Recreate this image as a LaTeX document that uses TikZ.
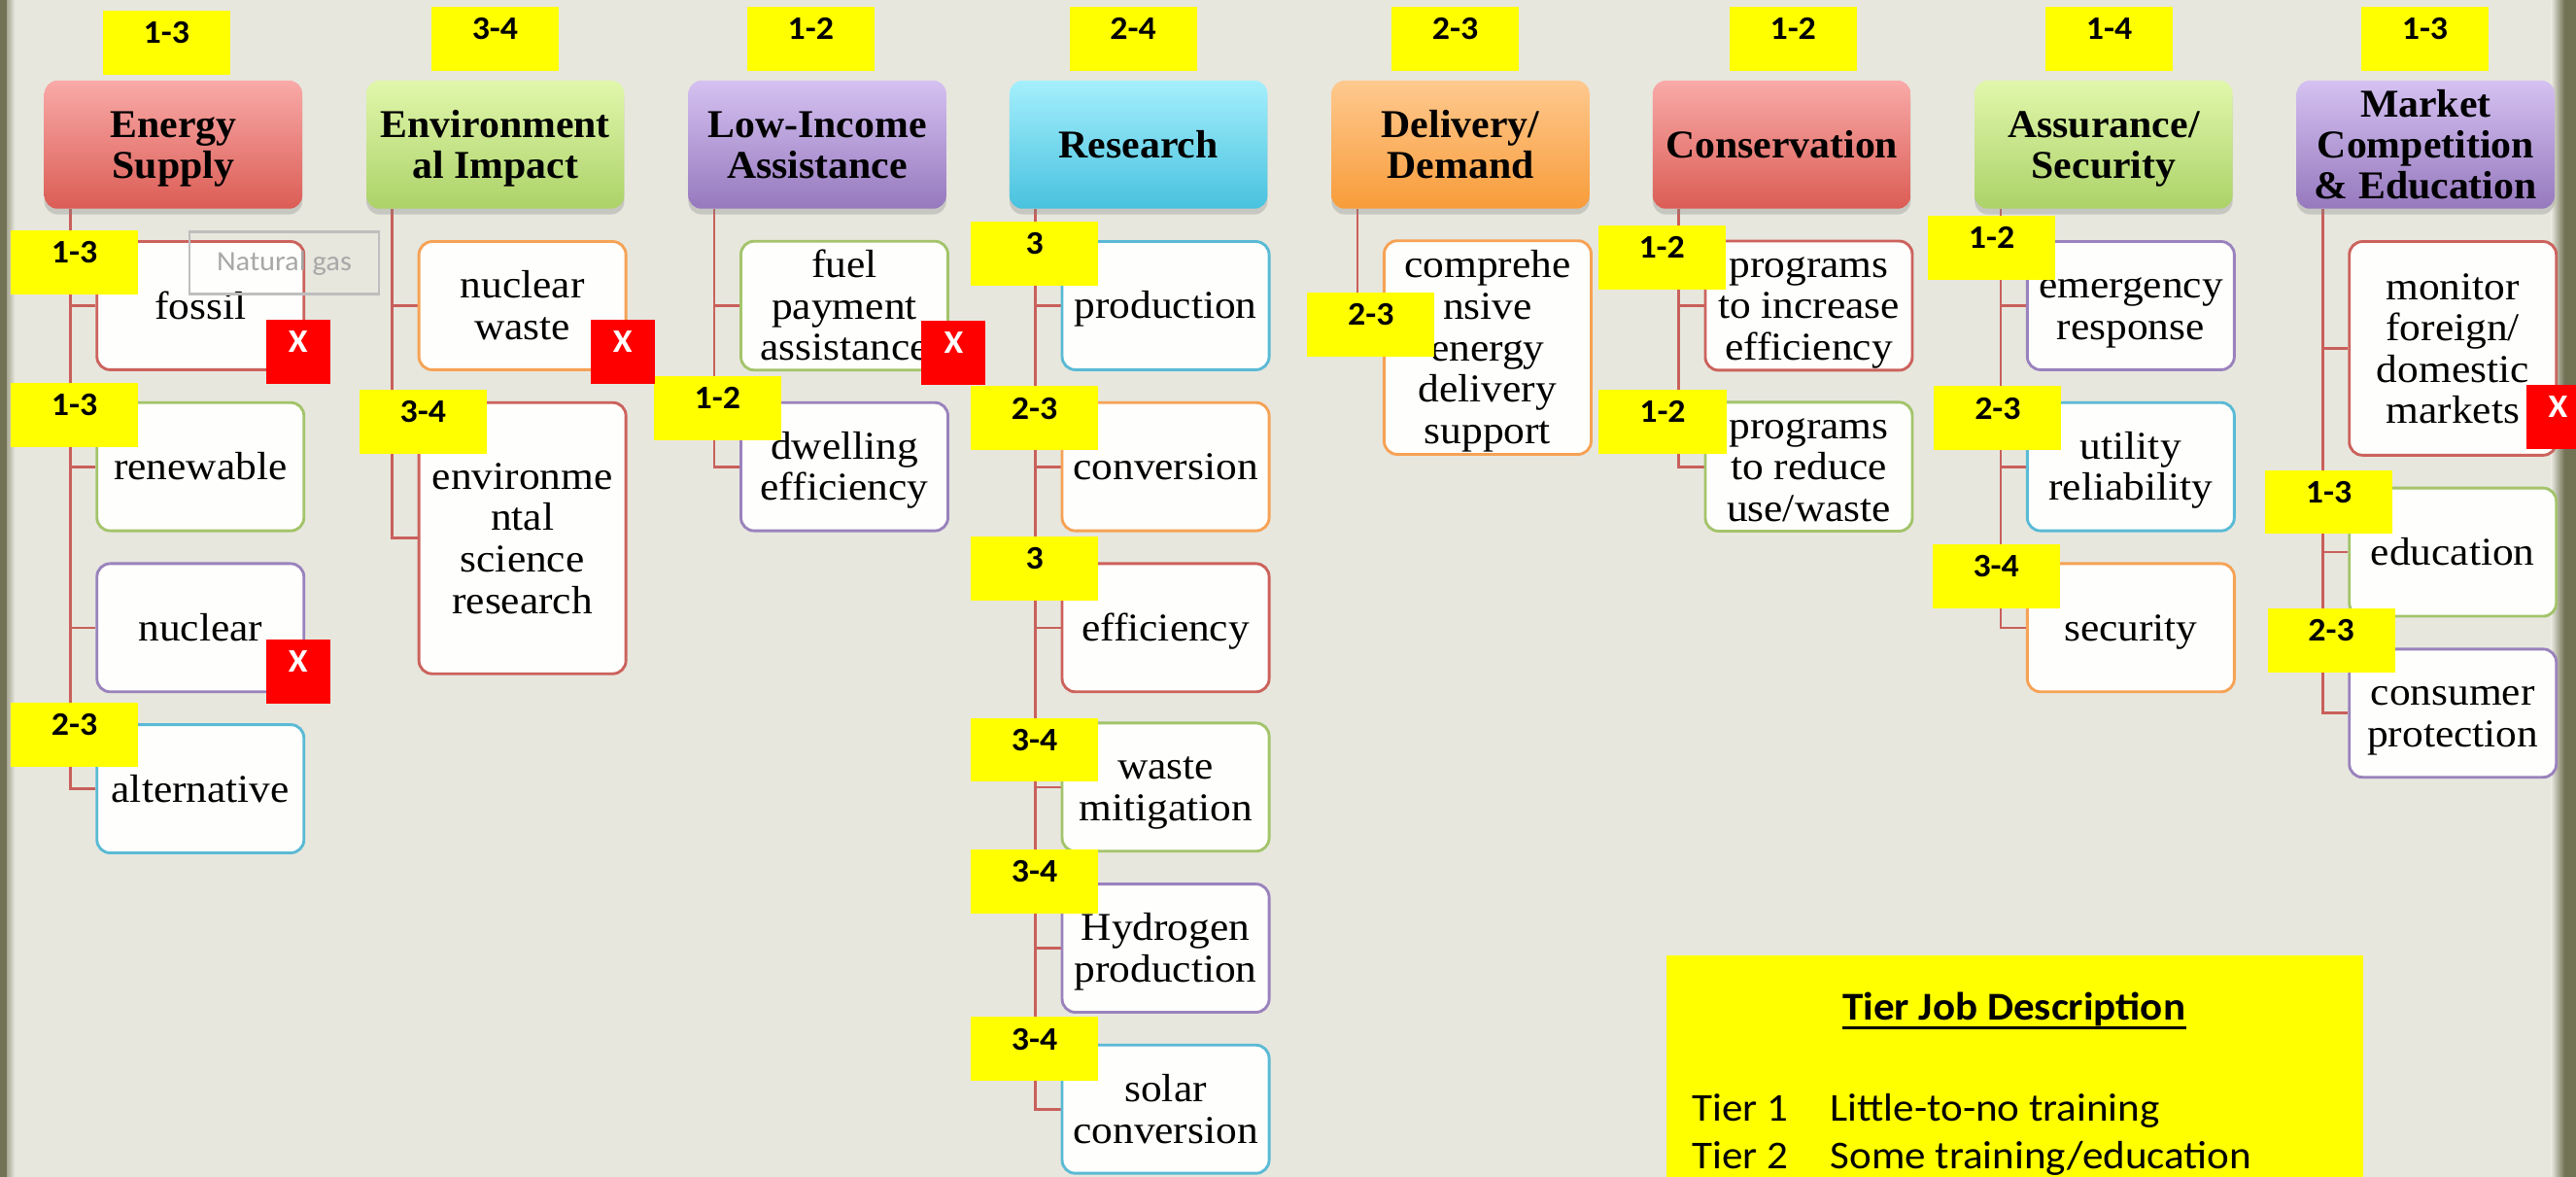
\documentclass[tikz,border=0pt]{standalone}
\usepackage{fontspec}
\setmainfont{Liberation Serif}
\newfontfamily\hdrfont{Liberation Serif}[FakeStretch=1.03]
\newfontfamily\boxfont{Liberation Serif}[FakeStretch=1.07]
\newfontfamily\calfont{Carlito}[FakeStretch=1.06]
\usetikzlibrary{shadows}
\newcommand\topstr{\rule{0pt}{21pt}}
\newcommand\botstr{\rule[-5pt]{0pt}{5pt}}
\newcommand\tx[1]{\topstr#1\botstr}
\definecolor{bgc}{HTML}{E7E7DE}
\definecolor{stripA}{HTML}{727255}
\definecolor{hredT}{HTML}{F9AAA8}\definecolor{hredB}{HTML}{DB5D55}
\definecolor{hgrnT}{HTML}{E1F7AC}\definecolor{hgrnB}{HTML}{ACD268}
\definecolor{hpurT}{HTML}{D5C1F1}\definecolor{hpurB}{HTML}{9679BE}
\definecolor{hcyaT}{HTML}{A5EFFC}\definecolor{hcyaB}{HTML}{48C2DF}
\definecolor{horaT}{HTML}{FFC98F}\definecolor{horaB}{HTML}{F89C3A}
\definecolor{bred}{HTML}{CC625C}
\definecolor{bgrn}{HTML}{A3C46A}
\definecolor{bpur}{HTML}{9A82BD}
\definecolor{bcya}{HTML}{5ABAD5}
\definecolor{bora}{HTML}{F6A255}
\definecolor{lnc}{HTML}{C9605B}
\definecolor{tyel}{HTML}{FFFF00}
\definecolor{xred}{HTML}{FF0000}
\definecolor{ngc}{HTML}{A8A8A8}
\definecolor{boxw}{HTML}{FEFEFC}
\pgfdeclarelayer{bg}\pgfdeclarelayer{edges}
\pgfsetlayers{bg,edges,main}
\begin{document}
\begin{tikzpicture}[x=1pt,y=-1pt,
  hdr/.style={rounded corners=8pt, minimum width=157pt, minimum height=78pt, inner sep=0pt,
    align=center, font=\hdrfont\bfseries\fontsize{24}{25}\selectfont,
    drop shadow={shadow xshift=0pt, shadow yshift=-3.5pt, opacity=0.3}},
  hred/.style={top color=hredT, bottom color=hredB},
  hgrn/.style={top color=hgrnT, bottom color=hgrnB},
  hpur/.style={top color=hpurT, bottom color=hpurB},
  hcya/.style={top color=hcyaT, bottom color=hcyaB},
  hora/.style={top color=horaT, bottom color=horaB},
  subbox/.style={draw=#1, line width=1.7pt, rounded corners=8pt, fill=boxw,
    minimum width=126pt, minimum height=78pt, inner sep=1pt, align=center,
    font=\boxfont\fontsize{24}{25.2}\selectfont},
  tierbox/.style={fill=tyel, minimum width=77.5pt, minimum height=39pt, inner sep=0pt,
    text height=13pt, text depth=12pt, font=\calfont\bfseries\fontsize{20}{24}\selectfont},
  xbox/.style={fill=xred, text=white, minimum width=39pt, minimum height=39pt, inner sep=0pt,
    text height=13pt, text depth=12pt, font=\calfont\bfseries\fontsize{20}{24}\selectfont},
  connline/.style={draw=lnc, line width=1.6pt},
  legtxt/.style={inner sep=0pt, anchor=base west, font=\calfont\fontsize{24}{28}\selectfont}
]
\useasboundingbox (0,0) rectangle (1568,716);
\begin{pgfonlayer}{bg}
  \fill[bgc] (0,0) rectangle (1568,716);
  \shade[left color=stripA, right color=bgc] (0,0) rectangle (9,716);
  \fill[stripA] (0,0) rectangle (4,716);
  \shade[left color=bgc, right color=stripA] (1553,0) rectangle (1561,716);
  \fill[stripA] (1561,0) rectangle (1568,716);
\end{pgfonlayer}

% headers
\node[hdr,hred] (h1) at (105.5,88) {\tx{Energy\\Supply}};
\node[hdr,hgrn] (h2) at (301.5,88) {\tx{Environment\\al Impact}};
\node[hdr,hpur] (h3) at (497.5,88) {\tx{Low-Income\\Assistance}};
\node[hdr,hcya] (h4) at (693,88) {\tx{Research}};
\node[hdr,hora] (h5) at (889,88) {\tx{Delivery/\\Demand}};
\node[hdr,hred] (h6) at (1084.5,88) {\tx{Conservation}};
\node[hdr,hgrn] (h7) at (1280.5,88) {\tx{Assurance/\\Security}};
\node[hdr,hpur] (h8) at (1476.5,88) {\tx{Market\\Competition\\\& Education}};

% children
\node[subbox=bred] (c1a) at (122,186) {\tx{fossil}};
\node[subbox=bgrn] (c1b) at (122,284) {\tx{renewable}};
\node[subbox=bpur] (c1c) at (122,382) {\tx{nuclear}};
\node[subbox=bcya] (c1d) at (122,480) {\tx{alternative}};

\node[subbox=bora] (c2a) at (318,186) {\tx{nuclear\\waste}};
\node[subbox=bred, minimum height=165pt] (c2b) at (318,327.5) {\tx{environme\\ntal\\science\\research}};

\node[subbox=bgrn] (c3a) at (514,186) {\tx{fuel\\payment\\assistance}};
\node[subbox=bpur] (c3b) at (514,284) {\tx{dwelling\\efficiency}};

\node[subbox=bcya] (c4a) at (709.5,186) {\tx{production}};
\node[subbox=bora] (c4b) at (709.5,284) {\tx{conversion}};
\node[subbox=bred] (c4c) at (709.5,382) {\tx{efficiency}};
\node[subbox=bgrn] (c4d) at (709.5,479) {\tx{waste\\mitigation}};
\node[subbox=bpur] (c4e) at (709.5,577) {\tx{Hydrogen\\production}};
\node[subbox=bcya] (c4f) at (709.5,675) {\tx{solar\\conversion}};

\node[subbox=bora, minimum height=130pt] (c5a) at (905.5,211.5) {\tx{comprehe\\nsive\\energy\\delivery\\support}};

\node[subbox=bred] (c6a) at (1101,186) {\tx{programs\\to increase\\efficiency}};
\node[subbox=bgrn] (c6b) at (1101,284) {\tx{programs\\to reduce\\use/waste}};

\node[subbox=bpur] (c7a) at (1297,186) {\tx{emergency\\response}};
\node[subbox=bcya] (c7b) at (1297,284) {\tx{utility\\reliability}};
\node[subbox=bora] (c7c) at (1297,382) {\tx{security}};

\node[subbox=bred, minimum height=130pt] (c8a) at (1493,212) {\tx{monitor\\foreign/\\domestic\\markets}};
\node[subbox=bgrn] (c8b) at (1493,336) {\tx{education}};
\node[subbox=bpur] (c8c) at (1493,434) {\tx{consumer\\protection}};

% connectors
\begin{pgfonlayer}{edges}
\foreach \h/\c in {h1/c1a,h1/c1b,h1/c1c,h1/c1d,h2/c2a,h2/c2b,h3/c3a,h3/c3b,
  h4/c4a,h4/c4b,h4/c4c,h4/c4d,h4/c4e,h4/c4f,h5/c5a,h6/c6a,h6/c6b,
  h7/c7a,h7/c7b,h7/c7c,h8/c8a,h8/c8b,h8/c8c}
  \draw[connline] ([xshift=16pt]\h.south west) |- (\c.west);
\end{pgfonlayer}

% natural gas note
\node[draw=ngc!75, line width=1.4pt, minimum width=115pt, minimum height=38pt, inner sep=0pt,
  text=ngc, font=\calfont\fontsize{17}{20}\selectfont] (ng) at (173,160) {Natural gas};

% top tier labels
\node[tierbox] (tA) at (101.3,26) {1-3};
\node[tierbox] (tB) at (301.3,23.6) {3-4};
\node[tierbox] (tC) at (493.5,23.6) {1-2};
\node[tierbox] (tD) at (689.7,23.6) {2-4};
\node[tierbox] (tE) at (885.8,23.6) {2-3};
\node[tierbox] (tF) at (1091.4,23.6) {1-2};
\node[tierbox] (tG) at (1283.8,23.6) {1-4};
\node[tierbox] (tH) at (1476,23.6) {1-3};

% child tier labels
\node[tierbox] (l1a) at (45.3,159.5) {1-3};
\node[tierbox] (l1b) at (45.3,252.5) {1-3};
\node[tierbox] (l1d) at (45.3,447) {2-3};
\node[tierbox] (l2b) at (257.5,256.5) {3-4};
\node[tierbox] (l3b) at (436.7,248.5) {1-2};
\node[tierbox] (l4a) at (629.7,154.3) {3};
\node[tierbox] (l4b) at (629.7,254.5) {2-3};
\node[tierbox] (l4c) at (629.7,346) {3};
\node[tierbox] (l4d) at (629.7,456.3) {3-4};
\node[tierbox] (l4e) at (629.7,536.5) {3-4};
\node[tierbox] (l4f) at (629.7,638.3) {3-4};
\node[tierbox] (l5a) at (834.5,197.5) {2-3};
\node[tierbox] (l6a) at (1011.5,156.5) {1-2};
\node[tierbox] (l6b) at (1012,256.5) {1-2};
\node[tierbox] (l7a) at (1212.3,150.8) {1-2};
\node[tierbox] (l7b) at (1216,254.5) {2-3};
\node[tierbox] (l7c) at (1215,350.5) {3-4};
\node[tierbox] (l8b) at (1417.5,305.5) {1-3};
\node[tierbox] (l8c) at (1419,389.5) {2-3};

% red X marks
\node[xbox] (x1a) at (181.5,214) {X};
\node[xbox] (x2a) at (379,214) {X};
\node[xbox] (x3a) at (580.5,214.5) {X};
\node[xbox] (x1c) at (181.5,408.5) {X};
\node[xbox, minimum width=30pt] (x8a) at (1553,253.5) {\hspace*{8pt}X};

% legend
\node[fill=tyel, anchor=north west, minimum width=424pt, minimum height=135pt, inner sep=0pt] (leg) at (1014,581) {};
\node[inner sep=0pt, anchor=base, font=\calfont\bfseries\fontsize{24}{28}\selectfont] (legT) at (1226,621) {Tier Job Description};
\draw[line width=2pt] ([yshift=-4.5pt]legT.base west) -- ([yshift=-4.5pt]legT.base east);
\node[legtxt] (t1a) at (1030,682) {Tier 1};
\node[legtxt] (t1b) at (1114,682) {Little-to-no training};
\node[legtxt] (t2a) at (1030,711) {Tier 2};
\node[legtxt] (t2b) at (1114,711) {Some training/education};
\end{tikzpicture}
\end{document}
